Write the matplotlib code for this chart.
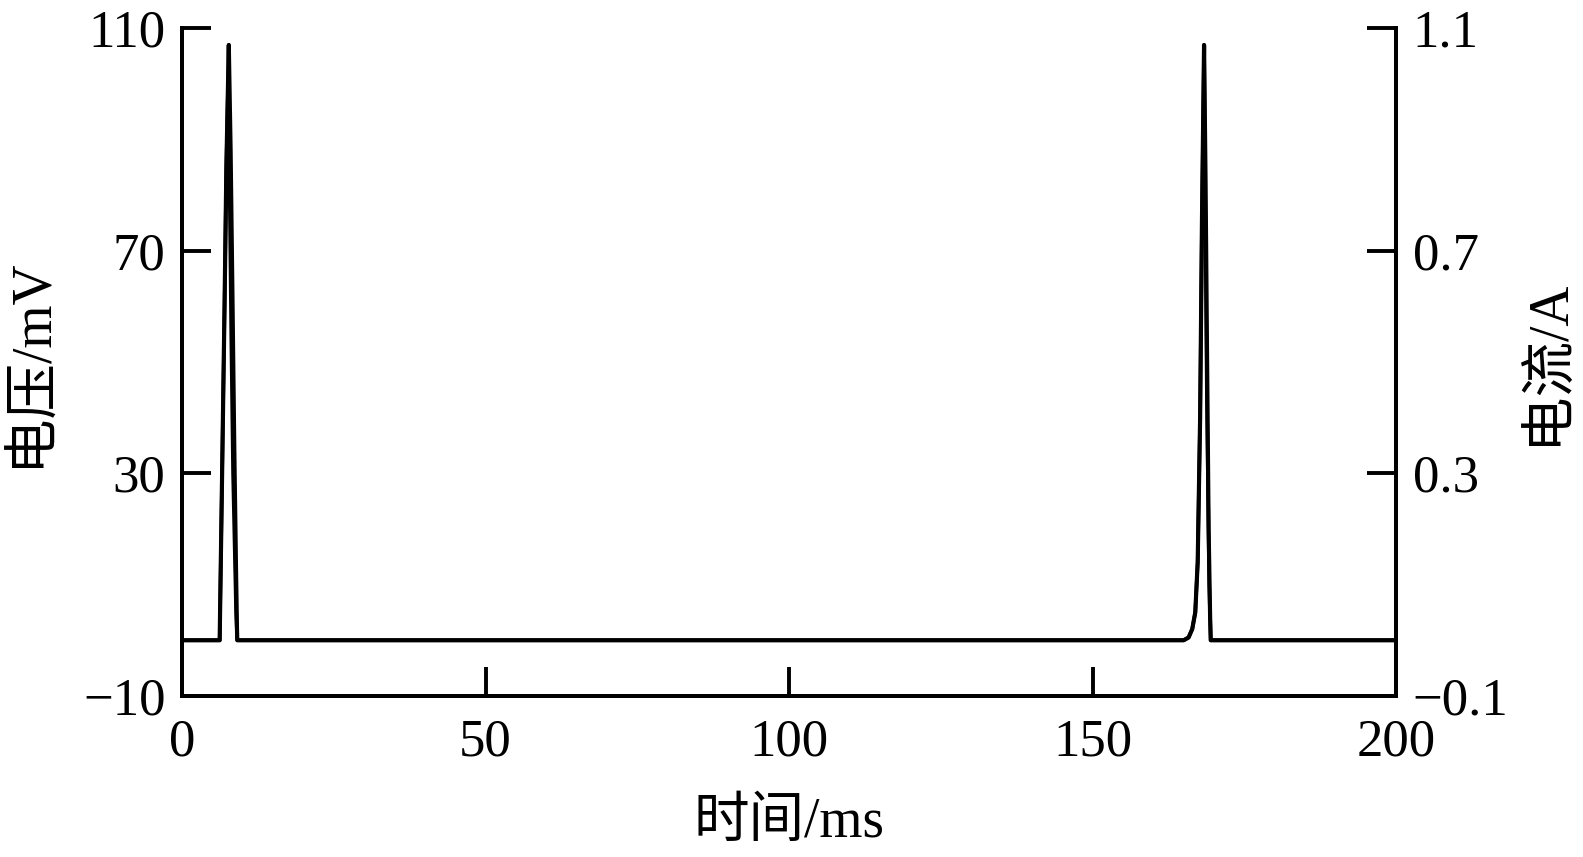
import matplotlib
matplotlib.use("Agg")
import matplotlib.pyplot as plt

# ---- data ----
time_v_ms = [0, 6.2, 6.25, 6.6, 7.0, 7.3, 7.7, 8.0, 8.3, 8.6, 8.9, 9.05, 9.1,
             165.0, 165.8, 166.4, 166.9, 167.3, 167.7, 168.0, 168.35, 168.6, 168.85, 169.1, 169.35, 169.45, 200]
voltage_mV = [0, 0, 4, 30, 60, 85, 107, 88, 62, 35, 12, 2, 0,
              0, 0.5, 2, 5, 14, 40, 75, 107, 82, 50, 20, 4, 0, 0]

time_i_ms = [0, 6.2, 6.25, 6.6, 7.0, 7.3, 7.7, 7.85, 8.1, 8.4, 8.9, 9.1,
             165.0, 165.8, 166.4, 166.9, 167.3, 167.7, 168.0, 168.35, 168.5, 168.8, 169.2, 169.45, 200]
current_A = [0, 0, 0.04, 0.30, 0.60, 0.85, 1.07, 0.80, 0.55, 0.30, 0.05, 0,
             0, 0.005, 0.02, 0.05, 0.14, 0.40, 0.75, 1.07, 0.85, 0.45, 0.10, 0, 0]

x_ticks = [0, 50, 100, 150, 200]
v_ticks = [-10, 30, 70, 110]
i_ticks = [-0.1, 0.3, 0.7, 1.1]
i_tick_labels = ["\u22120.1", "0.3", "0.7", "1.1"]
v_tick_labels = ["\u221210", "30", "70", "110"]

fam = ["Liberation Serif", "Noto Sans CJK SC"]
plt.rcParams["font.family"] = fam
plt.rcParams["axes.linewidth"] = 2.8

fig = plt.figure(figsize=(15.83, 8.57), dpi=100)
ax = fig.add_axes([0.115, 0.188, 0.767, 0.779])
ax2 = ax.twinx()

ax.plot(time_v_ms, voltage_mV, color="black", lw=3.0)
ax2.plot(time_i_ms, current_A, color="black", lw=2.6)

ax.set_xlim(0, 200)
ax.set_ylim(-10, 110)
ax2.set_ylim(-0.1, 1.1)

ax.set_xticks(x_ticks)
ax.set_yticks(v_ticks)
ax.set_yticklabels(v_tick_labels)
ax2.set_yticks(i_ticks)
ax2.set_yticklabels(i_tick_labels)

fs = 38
ax.tick_params(axis="both", direction="in", length=21, width=2.8, labelsize=fs)
ax.tick_params(axis="x", pad=16)
ax.tick_params(axis="y", pad=12)
ax2.tick_params(axis="y", direction="in", length=21, width=2.8, labelsize=fs, pad=12)

for a in (ax, ax2):
    a.spines["top"].set_visible(False)

lfs = 40
ax.set_xlabel("时间/ms", fontsize=lfs, labelpad=22)
ax.set_ylabel("电压/mV", fontsize=lfs, labelpad=18)
ax2.set_ylabel("电流/A", fontsize=lfs, rotation=90, va="center", ha="center")
ax2.yaxis.set_label_coords(1.125, 0.5)

fig.savefig("out.png", dpi=100, facecolor="white")
